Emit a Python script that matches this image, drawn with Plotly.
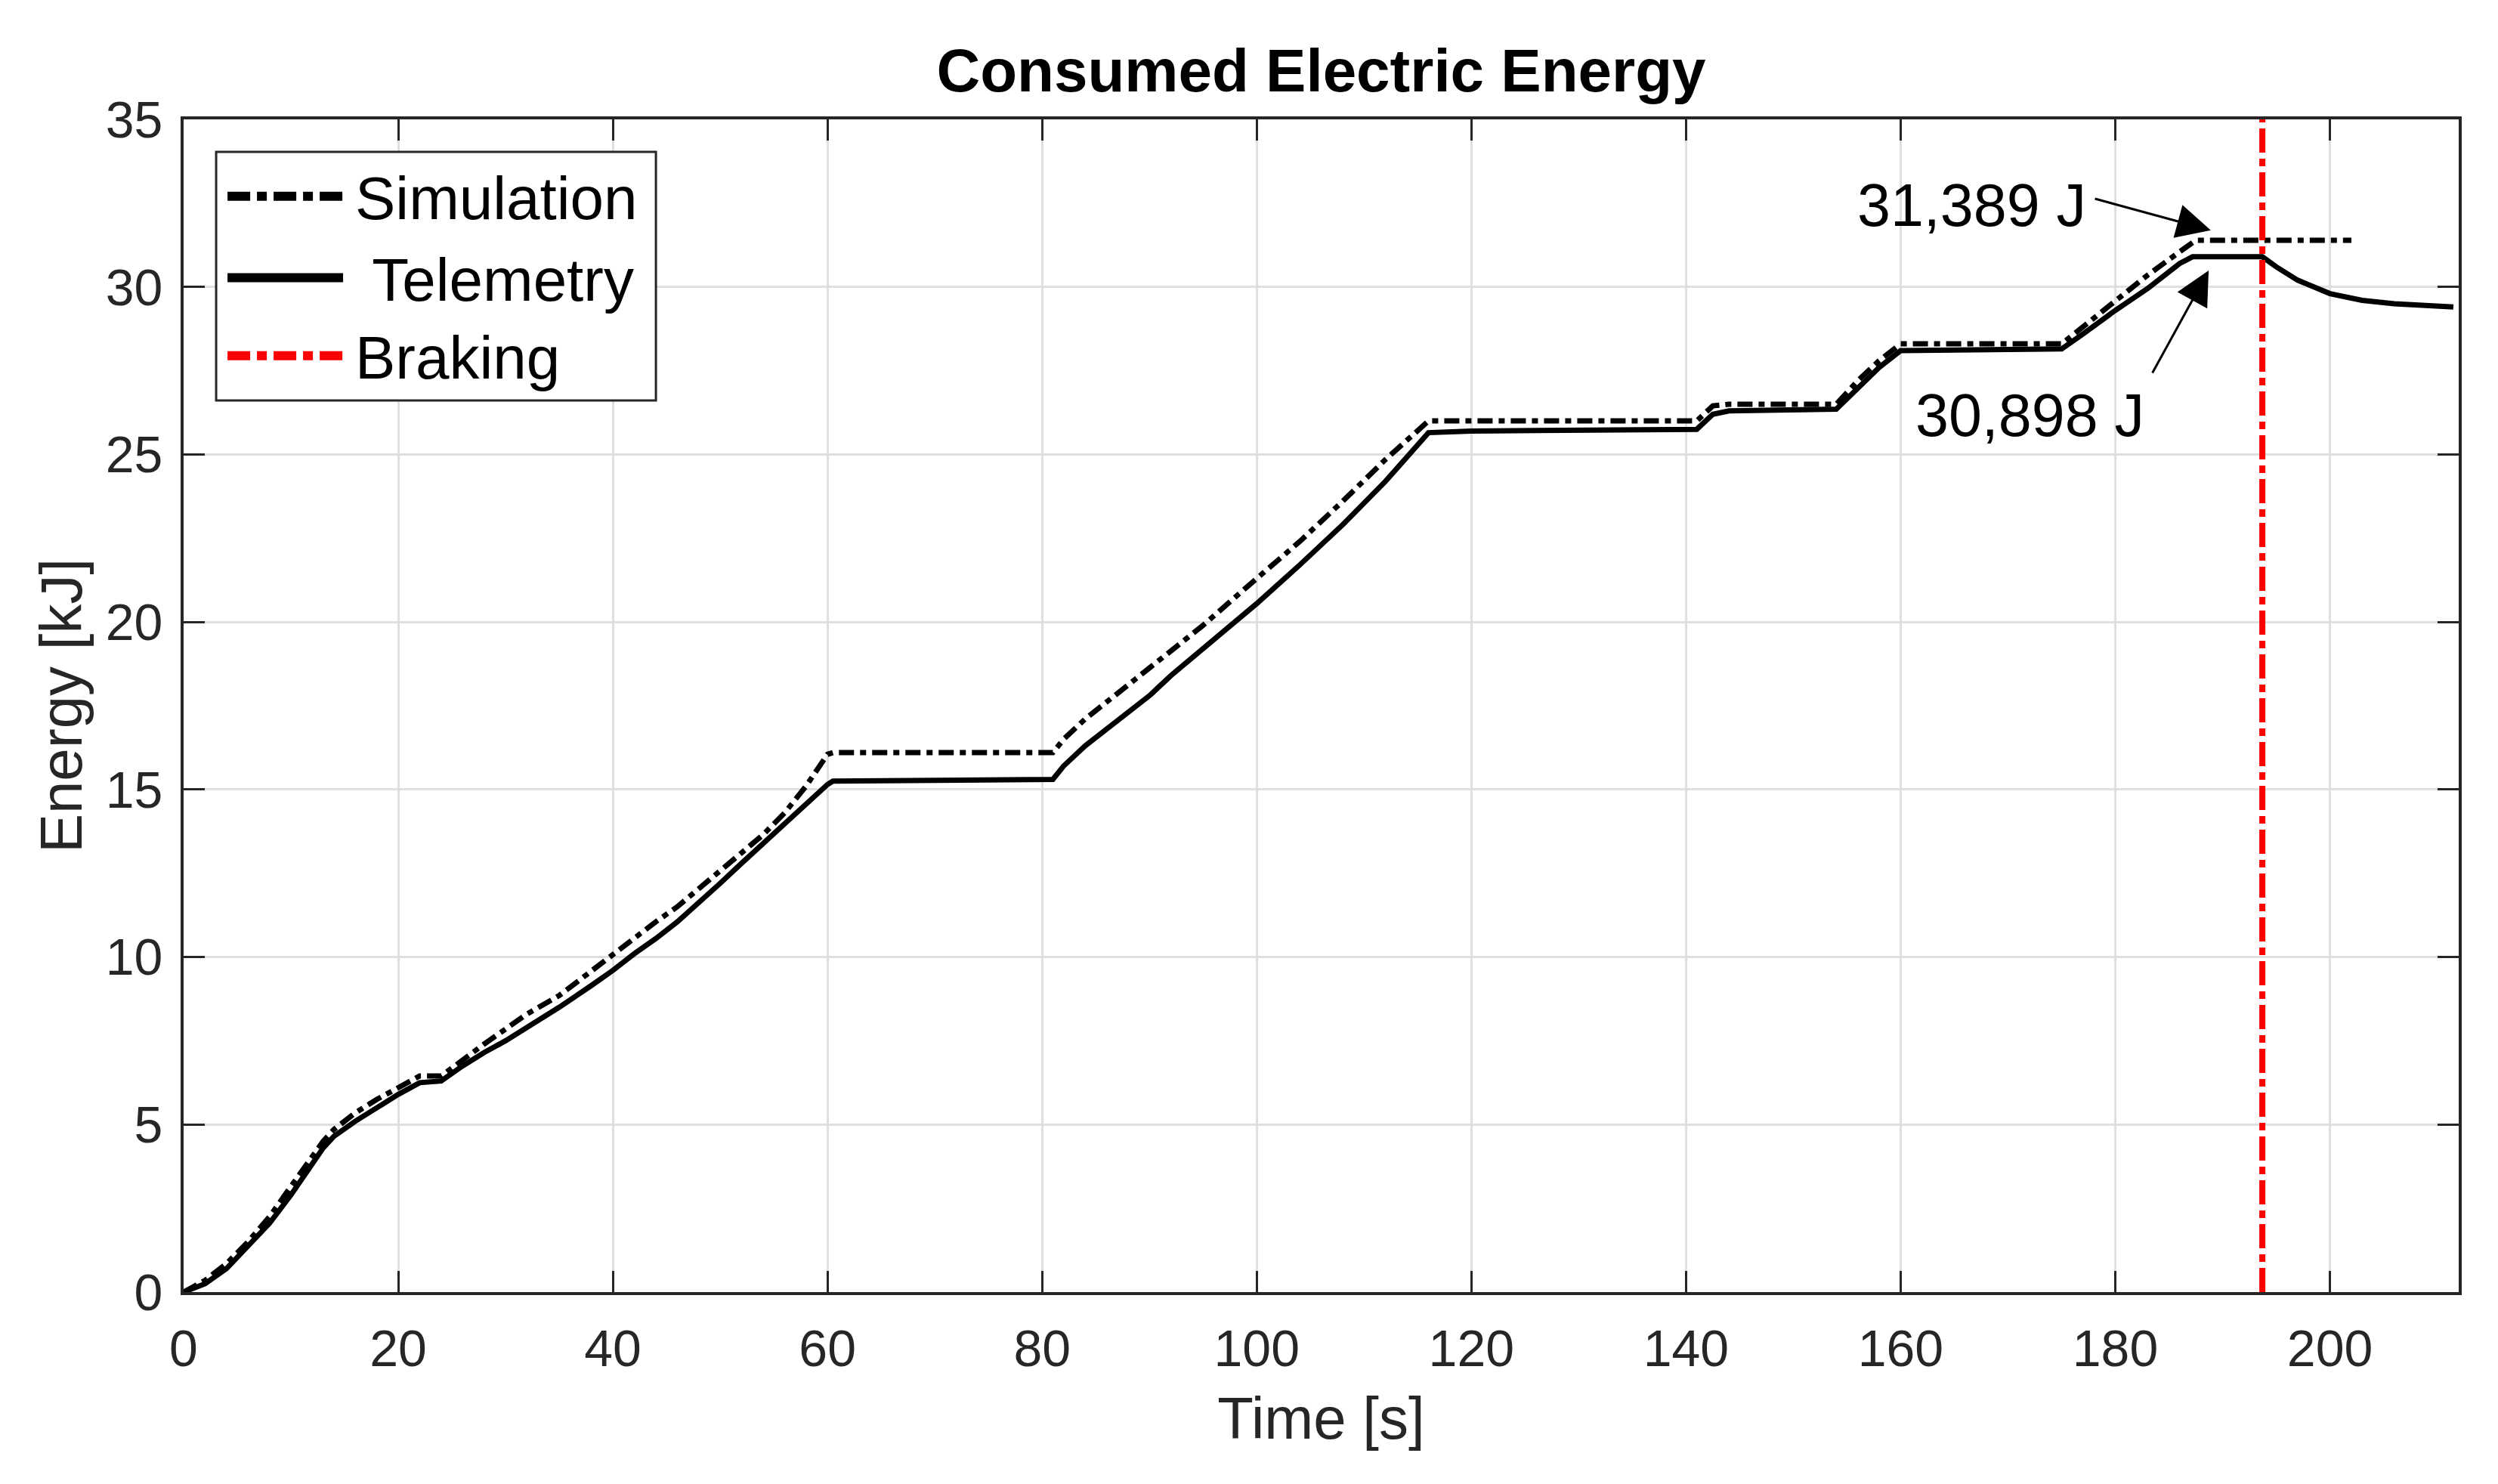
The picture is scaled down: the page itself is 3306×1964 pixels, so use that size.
import plotly.graph_objects as go

FONT = "Liberation Sans, Arial, sans-serif"

# %% Daten

tel_time = [0, 2, 4, 6, 8, 10, 12, 13, 14, 16, 18, 20, 22, 24, 26, 28, 30, 32, 35, 38,
            40, 42, 44, 46, 48, 50, 52, 54, 56, 58, 60, 60.5, 81, 82, 84, 86, 88, 90, 92,
            95, 100, 104, 108, 112, 114, 116, 120, 141, 142.5, 144, 154, 156, 158, 160,
            175, 177, 180, 183, 186, 187.2, 193.7, 195, 197, 200, 203, 206, 208, 211.5]
tel_energy = [0, 0.25, 0.7, 1.35, 2.05, 2.9, 3.85, 4.3, 4.65, 5.1, 5.5, 5.9, 6.25, 6.3,
              6.75, 7.15, 7.5, 7.9, 8.5, 9.15, 9.6, 10.1, 10.55, 11.05, 11.6, 12.2, 12.8,
              13.4, 14.0, 14.6, 15.15, 15.25, 15.3, 15.7, 16.3, 16.8, 17.3, 17.8, 18.4,
              19.2, 20.55, 21.7, 22.9, 24.2, 24.9, 25.65, 25.7, 25.75, 26.2, 26.3, 26.35,
              27.0, 27.6, 28.1, 28.15, 28.6, 29.3, 29.95, 30.7, 30.9, 30.9, 30.6, 30.2,
              29.8, 29.6, 29.5, 29.45, 29.4]

sim_time = [0, 2, 4, 6, 8, 10, 12, 13, 14, 16, 18, 20, 22, 24, 26, 28, 30, 32, 35, 38,
            40, 42, 44, 46, 48, 50, 52, 54, 56, 58, 60, 60.5, 81, 82, 84, 86, 88, 90, 95,
            100, 104, 108, 112, 116, 141, 142.5, 144, 154, 156, 158, 160, 175, 177, 180,
            183, 186, 187.5, 202]
sim_energy = [0, 0.35, 0.85, 1.5, 2.25, 3.15, 4.05, 4.5, 4.85, 5.35, 5.75, 6.1, 6.45,
              6.45, 6.95, 7.4, 7.85, 8.3, 8.85, 9.6, 10.1, 10.6, 11.05, 11.5, 12.05, 12.6,
              13.15, 13.65, 14.3, 15.1, 16.05, 16.1, 16.1, 16.5, 17.1, 17.6, 18.1, 18.6,
              19.9, 21.3, 22.4, 23.6, 24.85, 26.0, 26.0, 26.45, 26.5, 26.5, 27.2, 27.8,
              28.3, 28.3, 28.8, 29.6, 30.35, 31.05, 31.389, 31.389]

braking_time = 193.7
energy_limits = [0, 35]

x_ticks = [0, 20, 40, 60, 80, 100, 120, 140, 160, 180, 200]
y_ticks = [0, 5, 10, 15, 20, 25, 30, 35]

legend_names = ["Simulation", " Telemetry", "Braking"]
label_sim = "31,389 J"
label_tel = "30,898 J"

# %% Plot

fig = go.Figure()

fig.add_trace(go.Scatter(
    x=tel_time, y=tel_energy, mode="lines", name="Telemetry",
    line=dict(color="black", width=7),
))

fig.add_trace(go.Scatter(
    x=sim_time, y=sim_energy, mode="lines", name="Simulation",
    line=dict(color="black", width=7, dash="20px,8px,8px,8px"),
))

fig.add_trace(go.Scatter(
    x=[braking_time, braking_time], y=energy_limits, mode="lines", name="Braking",
    line=dict(color="#FF0000", width=8, dash="32px,8px,10px,8px"),
))

# Legende von Hand (lange Linienmuster wie im Original)
legend_styles = [
    dict(color="black", width=12, dash="30px,9px,13px,9px"),
    dict(color="black", width=12),
    dict(color="#FF0000", width=12, dash="30px,9px,13px,9px"),
]
legend_rows = [0.9345, 0.8650, 0.7985]

shapes = [dict(
    type="rect", xref="paper", yref="paper", layer="above",
    x0=0.0143, x1=0.2076, y0=0.7603, y1=0.9723,
    fillcolor="white", line=dict(color="#262626", width=3),
)]
annotations = []
for name, style, row in zip(legend_names, legend_styles, legend_rows):
    shapes.append(dict(
        type="line", xref="paper", yref="paper", layer="above",
        x0=0.0193, x1=0.0701, y0=row, y1=row, line=style,
    ))
    annotations.append(dict(
        x=0.0747, y=row - 0.002, xref="paper", yref="paper",
        text=name.replace(" ", "&nbsp;"), showarrow=False,
        xanchor="left", yanchor="middle",
        font=dict(family=FONT, size=80, color="black"),
    ))

# Pfeile und Beschriftungen
annotations += [
    dict(x=188.9, y=31.69, ax=178.0, ay=32.64, xref="x", yref="y", axref="x", ayref="y",
         text="", showarrow=True, arrowhead=2, arrowsize=3, arrowwidth=3,
         arrowcolor="black", standoff=0),
    dict(x=188.7, y=30.49, ax=183.4, ay=27.4, xref="x", yref="y", axref="x", ayref="y",
         text="", showarrow=True, arrowhead=2, arrowsize=3, arrowwidth=3,
         arrowcolor="black", standoff=0),
    dict(x=177.4, y=32.43, xref="x", yref="y", text=label_sim, showarrow=False,
         xanchor="right", yanchor="middle",
         font=dict(family=FONT, size=79, color="black")),
    dict(x=161.2, y=26.18, xref="x", yref="y", text=label_tel, showarrow=False,
         xanchor="left", yanchor="middle",
         font=dict(family=FONT, size=79, color="black")),
]

axis_style = dict(
    ticks="inside", ticklen=28, tickwidth=3, tickcolor="#262626",
    showline=True, linewidth=4, linecolor="#262626", mirror="allticks",
    showgrid=True, gridcolor="#DFDFDF", gridwidth=3, zeroline=False,
    tickfont=dict(family=FONT, size=68, color="#262626"),
)

fig.update_xaxes(
    range=[0, 212], tickvals=x_ticks, ticklabelstandoff=12,
    title=dict(text="Time [s]", font=dict(family=FONT, size=78, color="#262626"), standoff=30),
    **axis_style,
)
fig.update_yaxes(
    range=energy_limits, tickvals=y_ticks, ticklabelstandoff=10,
    title=dict(text="Energy [kJ]", font=dict(family=FONT, size=78, color="#262626"), standoff=6),
    **axis_style,
)

fig.update_layout(
    width=3306, height=1964,
    margin=dict(l=243, r=52, t=158, b=254),
    paper_bgcolor="white", plot_bgcolor="white",
    showlegend=False,
    title=dict(text="<b>Consumed Electric Energy</b>", x=0.5, xref="paper",
               y=1 - 93 / 1964, yref="container", yanchor="middle",
               font=dict(family=FONT, size=80, color="black")),
    shapes=shapes,
    annotations=annotations,
)

fig.write_html("out.html", config={"displayModeBar": False},
               post_script="document.body.style.margin='0';")
